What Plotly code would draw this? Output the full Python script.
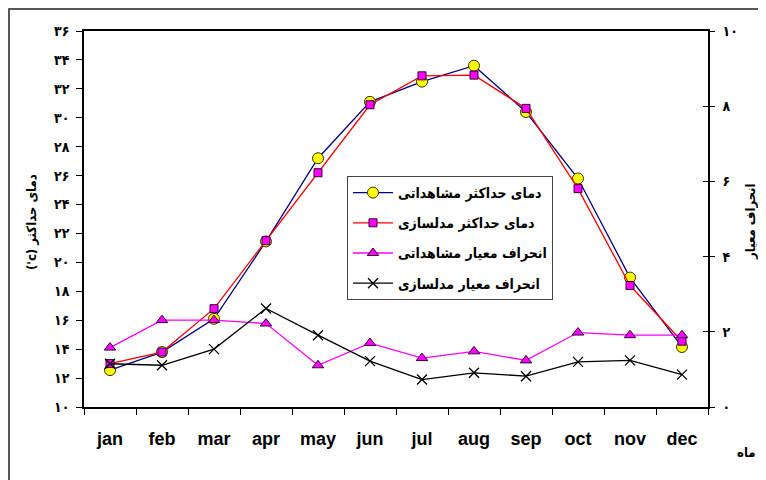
import plotly.graph_objects as go

months = ["jan", "feb", "mar", "apr", "may", "jun", "jul", "aug", "sep", "oct", "nov", "dec"]
obs_max = [12.55, 13.8, 16.1, 21.45, 27.2, 31.1, 32.5, 33.6, 30.4, 25.8, 18.95, 14.15]
mod_max = [13.0, 13.8, 16.8, 21.5, 26.2, 30.9, 32.9, 32.95, 30.65, 25.1, 18.4, 14.55]
std_obs = [1.58, 2.31, 2.31, 2.22, 1.11, 1.70, 1.30, 1.48, 1.24, 1.98, 1.91, 1.91]
std_mod = [1.15, 1.11, 1.54, 2.62, 1.91, 1.22, 0.73, 0.91, 0.82, 1.20, 1.24, 0.86]

names = ["دمای حداکثر مشاهداتی", "دمای حداکثر مدلسازی", "انحراف معیار مشاهداتی", "انحراف معیار مدلسازی"]
left_ticks = list(range(10, 37, 2))
right_ticks = list(range(0, 11, 2))
fa_digits = "۰۱۲۳۴۵۶۷۸۹"


def fa(n):
    return "".join(fa_digits[int(c)] for c in str(n))


left_title = "('c) دمای حداکثر"
right_title = "انحراف معیار"
x_title = "ماه"

FA_FONT = "DejaVu Sans Condensed, DejaVu Sans"
OFF = 8  # page body margin
W, H = 758, 472
L, T = 84 - OFF, 31 - OFF
pw, ph = 624, 376
R, B = W - L - pw, H - T - ph


def px(p):
    return (p - OFF - L) / pw


def py(p):
    return (T + ph - (p - OFF)) / ph


fa_font = dict(family=FA_FONT, size=13, color="black", weight="bold")
tick_font = dict(family=FA_FONT, size=14, color="black", weight="bold")

fig = go.Figure()
fig.add_trace(go.Scatter(x=months, y=obs_max, name=names[0], mode="lines+markers", legendgroup="a",
                         line=dict(color="#000080", width=1.3),
                         marker=dict(symbol="circle", size=11, color="#FFFF00",
                                     line=dict(color="#333300", width=1))))
fig.add_trace(go.Scatter(x=months, y=mod_max, name=names[1], mode="lines+markers", legendgroup="b",
                         line=dict(color="#FF0000", width=1.3),
                         marker=dict(symbol="square", size=8, color="#FF00FF",
                                     line=dict(color="#330033", width=1))))
fig.add_trace(go.Scatter(x=months, y=std_obs, name=names[2], mode="lines+markers", yaxis="y2", legendgroup="c",
                         line=dict(color="#FF00FF", width=1.3),
                         marker=dict(symbol="triangle-up", size=10, color="#FF00FF",
                                     line=dict(color="#330033", width=1))))
fig.add_trace(go.Scatter(x=months, y=std_mod, name=names[3], mode="lines+markers", yaxis="y2", legendgroup="d",
                         line=dict(color="#000000", width=1.3),
                         marker=dict(symbol="x-thin-open", size=10, color="#000000",
                                     line=dict(color="#000000", width=1.3))))
# carrier trace for the inner right-hand ticks
fig.add_trace(go.Scatter(x=[months[0]], y=[None], yaxis="y3", showlegend=False, hoverinfo="skip"))

fig.update_layout(
    width=W, height=H,
    margin=dict(l=L, r=R, t=T, b=B, pad=0),
    paper_bgcolor="white", plot_bgcolor="white",
    showlegend=True,
    legend=dict(x=px(347), y=py(176), xanchor="left", yanchor="top",
                bgcolor="white", bordercolor="#444444", borderwidth=1,
                font=dict(family=FA_FONT, size=14, color="black", weight="bold"),
                tracegroupgap=9, itemwidth=40),
    xaxis=dict(type="category", categoryorder="array", categoryarray=months,
               range=[-0.5, 11.5], tickson="boundaries", ticks="outside", ticklen=6,
               tickcolor="black", showline=True, linecolor="black", linewidth=1.5,
               mirror=True, showgrid=False, zeroline=False,
               tickfont=dict(family="Liberation Sans", size=18, color="black", weight="bold"),
               ticklabelstandoff=15),
    yaxis=dict(range=[10, 36], tickvals=left_ticks, ticktext=[fa(v) for v in left_ticks],
               ticks="outside", ticklen=6, tickcolor="black", showline=True,
               linecolor="black", linewidth=1.5, showgrid=False, zeroline=False,
               tickfont=tick_font, ticklabelstandoff=4),
    yaxis2=dict(range=[0, 10], tickvals=right_ticks, ticktext=[fa(v) for v in right_ticks],
                overlaying="y", side="right", ticks="outside", ticklen=5, tickcolor="black",
                showline=True, linecolor="black", linewidth=1.5, showgrid=False, zeroline=False,
                tickfont=tick_font, ticklabelstandoff=5),
    yaxis3=dict(range=[0, 10], tickvals=right_ticks, overlaying="y", side="right",
                ticks="inside", ticklen=5, tickcolor="black", showticklabels=False,
                showline=False, showgrid=False, zeroline=False),
    annotations=[
        dict(text=left_title, x=px(31), y=py(222), xref="paper", yref="paper", textangle=-90,
             xanchor="center", yanchor="middle", showarrow=False, font=fa_font),
        dict(text=right_title, x=px(750), y=py(222), xref="paper", yref="paper", textangle=-90,
             xanchor="center", yanchor="middle", showarrow=False, font=fa_font),
        dict(text=x_title, x=px(746), y=py(452), xref="paper", yref="paper",
             xanchor="center", yanchor="middle", showarrow=False, font=fa_font),
    ],
    shapes=[
        dict(type="rect", xref="paper", yref="paper", x0=px(9), x1=px(800), y0=py(520), y1=py(9),
             line=dict(color="#222222", width=1.5), fillcolor="rgba(0,0,0,0)", layer="above"),
    ],
)

fig.write_html("out.html")
